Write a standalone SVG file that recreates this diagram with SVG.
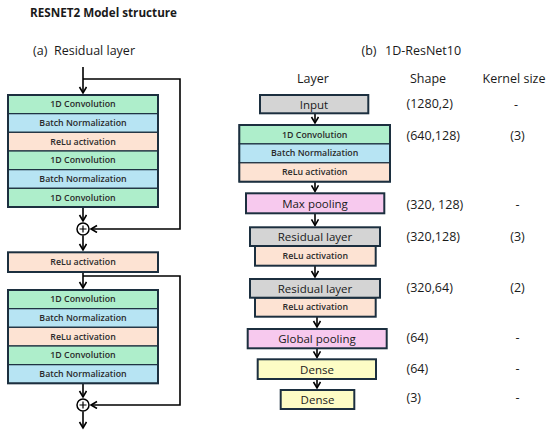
<svg xmlns="http://www.w3.org/2000/svg" width="550" height="436" viewBox="0 0 550 436">
<style>
.bg{fill:#ffffff}
.g{fill:#aeeecb}.b{fill:#b7e4f3}.p{fill:#fde3d3}.k{fill:#f7c9ee}.y{fill:#fdfcc5}.gr{fill:#d4d4d4}
.row{stroke:#1c2f3f;stroke-width:1.2}
.out{fill:none;stroke:#1c2f3f;stroke-width:2}
.box{stroke:#1c2f3f;stroke-width:2}
.s{font-family:"Open Sans","Liberation Sans",sans-serif;font-size:8.8px;font-weight:600;fill:#2a2a2a;text-anchor:middle;dominant-baseline:central}
.m{font-family:"Open Sans","Liberation Sans",sans-serif;font-size:11.5px;fill:#1a1a1a;text-anchor:middle;dominant-baseline:central}
.h{font-family:"Open Sans","Liberation Sans",sans-serif;font-size:12.5px;fill:#1a1a1a}
.c{font-family:"Open Sans","Liberation Sans",sans-serif;font-size:12.5px;fill:#1a1a1a;text-anchor:middle;dominant-baseline:central}
.t{font-family:"Open Sans","Liberation Sans",sans-serif;font-size:13px;font-weight:bold;fill:#1a1a1a}
.ln{fill:none;stroke:#000;stroke-width:1.6}
.cir{fill:#fff;stroke:#000;stroke-width:1.5}
</style>
<defs>
<marker id="ar" markerWidth="10" markerHeight="10" refX="7" refY="4" orient="auto" markerUnits="userSpaceOnUse">
<path d="M1,0.5 L7,4 L1,7.5" fill="none" stroke="#000" stroke-width="1.6"/>
</marker>
</defs>
<rect class="bg" width="550" height="436"/>
<text class="t" x="30" y="17" textLength="147" lengthAdjust="spacingAndGlyphs">RESNET2 Model structure</text>
<text class="h" x="33" y="55">(a)<tspan x="54">Residual layer</tspan></text>
<text class="h" x="361.5" y="55">(b)<tspan x="385">1D-ResNet10</tspan></text>
<text class="c" x="313" y="78">Layer</text>
<text class="c" x="428" y="78">Shape</text>
<text class="c" x="514" y="78">Kernel size</text>

<g id="connectors">
<line class="ln" x1="83" y1="67" x2="83" y2="93" marker-end="url(#ar)"/>
<polyline class="ln" points="83,79 180,79 180,229 91,229" marker-end="url(#ar)"/>
<line class="ln" x1="83" y1="207" x2="83" y2="221" marker-end="url(#ar)"/>
<line class="ln" x1="83" y1="235.5" x2="83" y2="250" marker-end="url(#ar)"/>
<line class="ln" x1="83" y1="272" x2="83" y2="288" marker-end="url(#ar)"/>
<polyline class="ln" points="83,276 180,276 180,405 91,405" marker-end="url(#ar)"/>
<line class="ln" x1="83" y1="383.3" x2="83" y2="397" marker-end="url(#ar)"/>
<line class="ln" x1="83" y1="411.5" x2="83" y2="428" marker-end="url(#ar)"/>
<line class="ln" x1="315" y1="113.3" x2="315" y2="123" marker-end="url(#ar)"/>
<line class="ln" x1="315" y1="181.7" x2="315" y2="191.3" marker-end="url(#ar)"/>
<line class="ln" x1="315" y1="213.3" x2="315" y2="225.3" marker-end="url(#ar)"/>
<line class="ln" x1="315" y1="265.7" x2="315" y2="277" marker-end="url(#ar)"/>
<line class="ln" x1="317" y1="316.7" x2="317" y2="327" marker-end="url(#ar)"/>
<line class="ln" x1="317" y1="348.3" x2="317" y2="357.3" marker-end="url(#ar)"/>
<line class="ln" x1="317" y1="379" x2="317" y2="388" marker-end="url(#ar)"/>
</g>

<g id="res-stack-1">
<rect class="g row" x="8" y="95" width="150" height="18.67"/>
<rect class="b row" x="8" y="113.67" width="150" height="18.67"/>
<rect class="p row" x="8" y="132.33" width="150" height="18.67"/>
<rect class="g row" x="8" y="151" width="150" height="18.67"/>
<rect class="b row" x="8" y="169.67" width="150" height="18.67"/>
<rect class="g row" x="8" y="188.33" width="150" height="18.67"/>
<rect class="out" x="8" y="95" width="150" height="112"/>
<text class="s" x="83" y="104.3">1D Convolution</text>
<text class="s" x="83" y="123">Batch Normalization</text>
<text class="s" x="83" y="141.7">ReLu activation</text>
<text class="s" x="83" y="160.3">1D Convolution</text>
<text class="s" x="83" y="179">Batch Normalization</text>
<text class="s" x="83" y="197.7">1D Convolution</text>
</g>
<g id="add-1"><circle class="cir" cx="83" cy="229" r="6"/><path d="M83,225.5 V232.5 M79.5,229 H86.5" stroke="#000" stroke-width="1.2"/></g>
<g id="res-relu">
<rect class="p box" x="8" y="252.3" width="150" height="19.7"/>
<text class="s" x="83" y="262.2">ReLu activation</text>
</g>
<g id="res-stack-2">
<rect class="g row" x="8" y="290" width="150" height="18.67"/>
<rect class="b row" x="8" y="308.67" width="150" height="18.67"/>
<rect class="p row" x="8" y="327.33" width="150" height="18.67"/>
<rect class="g row" x="8" y="346" width="150" height="18.67"/>
<rect class="b row" x="8" y="364.67" width="150" height="18.67"/>
<rect class="out" x="8" y="290" width="150" height="93.33"/>
<text class="s" x="83" y="299.3">1D Convolution</text>
<text class="s" x="83" y="318">Batch Normalization</text>
<text class="s" x="83" y="336.7">ReLu activation</text>
<text class="s" x="83" y="355.3">1D Convolution</text>
<text class="s" x="83" y="374">Batch Normalization</text>
</g>
<g id="add-2"><circle class="cir" cx="83" cy="405" r="6"/><path d="M83,401.5 V408.5 M79.5,405 H86.5" stroke="#000" stroke-width="1.2"/></g>

<g id="input">
<rect class="gr box" x="260" y="95" width="108.3" height="18.3"/>
<text class="m" x="314" y="104.2">Input</text>
</g>
<g id="conv-block">
<rect class="g row" x="239.3" y="125" width="150.7" height="18.9"/>
<rect class="b row" x="239.3" y="143.9" width="150.7" height="18.9"/>
<rect class="p row" x="239.3" y="162.8" width="150.7" height="18.9"/>
<rect class="out" x="239.3" y="125" width="150.7" height="56.7"/>
<text class="s" x="314.7" y="134.5">1D Convolution</text>
<text class="s" x="314.7" y="153.3">Batch Normalization</text>
<text class="s" x="314.7" y="172.2">ReLu activation</text>
</g>
<g id="maxpool">
<rect class="k box" x="246" y="193.3" width="138.3" height="20"/>
<text class="m" x="315" y="203.3">Max pooling</text>
</g>
<g id="residual-1">
<rect class="p box" x="255" y="246" width="120.7" height="19.7"/>
<rect class="gr box" x="250" y="227.3" width="130" height="18.7"/>
<text class="m" x="315" y="236.7">Residual layer</text>
<text class="s" x="315.3" y="255.8">ReLu activation</text>
</g>
<g id="residual-2">
<rect class="p box" x="255" y="297.7" width="120.7" height="19"/>
<rect class="gr box" x="250" y="279" width="130" height="18.7"/>
<text class="m" x="315" y="288.8">Residual layer</text>
<text class="s" x="315.3" y="307.2">ReLu activation</text>
</g>
<g id="globalpool">
<rect class="k box" x="247.7" y="329" width="139" height="19.3"/>
<text class="m" x="317" y="338.6">Global pooling</text>
</g>
<g id="dense-1">
<rect class="y box" x="257.7" y="359.3" width="118.3" height="19.7"/>
<text class="m" x="317" y="369.2">Dense</text>
</g>
<g id="dense-2">
<rect class="y box" x="280.7" y="390" width="73.6" height="19"/>
<text class="m" x="317.5" y="399.5">Dense</text>
</g>

<g id="table">
<text class="h" x="406.5" y="107.5">(1280,2)</text>
<text class="c" x="516" y="104">-</text>
<text class="h" x="406.5" y="139.5">(640,128)</text>
<text class="c" x="517.5" y="135.5">(3)</text>
<text class="h" x="406.5" y="208.5">(320, 128)</text>
<text class="c" x="517.5" y="204">-</text>
<text class="h" x="406.5" y="241">(320,128)</text>
<text class="c" x="517.5" y="236.7">(3)</text>
<text class="h" x="406.5" y="291.5">(320,64)</text>
<text class="c" x="517.5" y="287.3">(2)</text>
<text class="h" x="406.5" y="341.5">(64)</text>
<text class="c" x="517.5" y="337.3">-</text>
<text class="h" x="406.5" y="372.5">(64)</text>
<text class="c" x="517.5" y="368.3">-</text>
<text class="h" x="406.5" y="402">(3)</text>
<text class="c" x="517.5" y="397.7">-</text>
</g>
</svg>
